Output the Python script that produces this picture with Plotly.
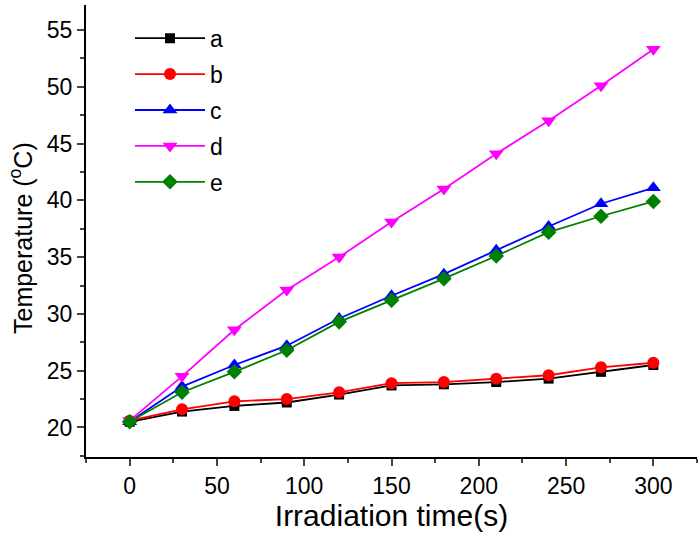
import plotly.graph_objects as go

time_s = [0, 30, 60, 90, 120, 150, 180, 210, 240, 270, 300]
series_names = ["a", "b", "c", "d", "e"]
temp_a = [20.5, 21.4, 21.9, 22.2, 22.9, 23.7, 23.8, 24.0, 24.3, 24.9, 25.5]
temp_b = [20.6, 21.6, 22.3, 22.5, 23.1, 23.9, 24.0, 24.3, 24.6, 25.3, 25.7]
temp_c = [20.5, 23.6, 25.5, 27.2, 29.6, 31.6, 33.5, 35.6, 37.7, 39.7, 41.1]
temp_d = [20.6, 24.5, 28.6, 32.1, 35.0, 38.1, 41.0, 44.1, 47.0, 50.1, 53.3]
temp_e = [20.5, 23.1, 24.9, 26.8, 29.3, 31.2, 33.1, 35.1, 37.2, 38.6, 39.9]

x_ticks = [0, 50, 100, 150, 200, 250, 300]
y_ticks = [20, 25, 30, 35, 40, 45, 50, 55]

colors = ["#000000", "#FF0000", "#0000FF", "#FF00FF", "#008000"]
symbols = ["square", "circle", "triangle-up", "triangle-down", "diamond"]
sizes = [10, 12, 13, 13, 12]

fig = go.Figure()
for name, ys, c, s, sz in zip(series_names, [temp_a, temp_b, temp_c, temp_d, temp_e], colors, symbols, sizes):
    fig.add_trace(go.Scatter(
        x=time_s, y=ys, name=name, mode="lines+markers",
        line=dict(color=c, width=1.8),
        marker=dict(symbol=s, size=sz, color=c),
        legendgroup=name,
    ))

fam = "Liberation Sans, Arial, sans-serif"
axis_font = dict(family=fam, size=23, color="#000000")
fig.update_layout(
    width=700, height=533,
    margin=dict(l=86, r=3, t=5, b=76),
    plot_bgcolor="white", paper_bgcolor="white",
    font=dict(family=fam, color="#000000"),
    legend=dict(
        x=0.072, y=0.974, xanchor="left", yanchor="top",
        font=dict(size=23, family=fam),
        itemwidth=70, tracegroupgap=3, bgcolor="rgba(0,0,0,0)",
    ),
    xaxis=dict(
        range=[-25, 325], tickvals=x_ticks, ticks="outside", ticklen=7, tickwidth=2,
        showline=True, linewidth=2, linecolor="black", showgrid=False, zeroline=False,
        tickfont=axis_font, automargin=False,
        minor=dict(dtick=25, tick0=0, ticks="outside", ticklen=4, tickwidth=2, showgrid=False),
        title=dict(text="Irradiation time(s)", font=dict(size=30, family=fam), standoff=0),
    ),
    yaxis=dict(
        range=[17.4, 57.2], tickvals=y_ticks, ticks="outside", ticklen=7, tickwidth=2,
        showline=True, linewidth=2, linecolor="black", showgrid=False, zeroline=False,
        tickfont=axis_font, automargin=False,
        minor=dict(dtick=2.5, tick0=0, ticks="outside", ticklen=4, tickwidth=2, showgrid=False),
    ),
    annotations=[dict(
        text="Temperature (<sup>o</sup>C)", textangle=-90, showarrow=False,
        xref="paper", yref="paper", x=-0.106, y=0.485, xanchor="center", yanchor="middle",
        font=dict(size=25, family=fam, color="#000000"),
    )],
)

fig.write_html("out.html", post_script="document.body.style.margin='0';",
               config={"displayModeBar": False})
